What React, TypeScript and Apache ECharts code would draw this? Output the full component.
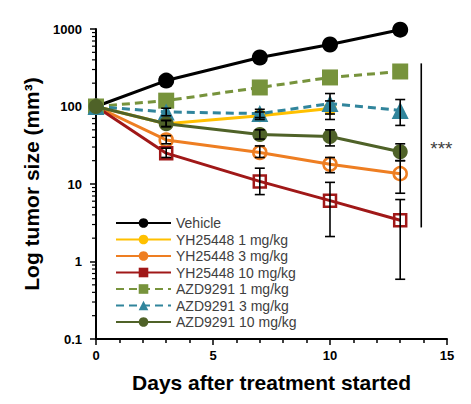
import React, { useEffect, useRef } from "react";
import * as echarts from "echarts";

// ---- data ----
const days = [0, 3, 7, 10, 13];
const seriesNames = [
  "Vehicle",
  "YH25448 1 mg/kg",
  "YH25448 3 mg/kg",
  "YH25448 10 mg/kg",
  "AZD9291 1 mg/kg",
  "AZD9291 3 mg/kg",
  "AZD9291 10 mg/kg",
];
const vehicle = [100, 216, 429, 631, 980];
const yh1 = [100, 60, 76, 94, null];
const yh3 = [100, 37, 25.5, 18, 13.6];
const yh10 = [100, 25, 10.8, 6.1, 3.4];
const azd1 = [100, 119, 176, 237, 283];
const azd3 = [100, 85, 81, 109, 89];
const azd10 = [100, 60, 43.5, 41, 26];

// error bars (lower / upper)
const yh1Low = [null, 55, 68, 68, null];
const yh1High = [null, 66, 85, 118, null];
const yh3Low = [null, 33, 22, 14, 7.6];
const yh3High = [null, 42, 31, 22, 20];
const yh10Low = [null, 22, 7.3, 2.1, 0.59];
const yh10High = [null, 29, 16, 10.5, 6.3];
const azd3Low = [null, 76, 72, 80, 57];
const azd3High = [null, 95, 92, 147, 123];
const azd10Low = [null, 55, 38, 31, 20];
const azd10High = [null, 66, 50, 50, 33];

const xTicks = [0, 5, 10, 15];
const yDecades = [0.1, 1, 10, 100];
const yMinorMultipliers = [2, 3, 4, 5, 6, 7, 8, 9];

const sigDay = 13.9;
const sigLow = 2.75;
const sigHigh = 360;
const sigLabel = "***";

export default function App() {
  const ref = useRef<HTMLDivElement>(null);
  useEffect(() => {
    if (!ref.current) return;
    const chart = echarts.init(ref.current, null, { renderer: "svg" });
    const font = "Arial, 'Liberation Sans', sans-serif";

    const mk = (arr: (number | null)[]) => days.map((d, i) => [d, arr[i]]);
    const errData: number[][] = [];
    const addErr = (lo: (number | null)[], hi: (number | null)[]) => {
      days.forEach((d, i) => {
        if (lo[i] != null && hi[i] != null) errData.push([d, lo[i] as number, hi[i] as number]);
      });
    };
    addErr(yh1Low, yh1High);
    addErr(yh3Low, yh3High);
    addErr(yh10Low, yh10High);
    addErr(azd3Low, azd3High);
    addErr(azd10Low, azd10High);

    const minorTicks: number[][] = [];
    yDecades.forEach((d) => yMinorMultipliers.forEach((m) => minorTicks.push([0, d * m])));

    const colors = ["#000000", "#FFC000", "#EE7E22", "#A01818", "#77933C", "#31859C", "#4F6228"];

    const lineSeries = (
      idx: number,
      arr: (number | null)[],
      symbol: string,
      size: number,
      dashed: boolean,
      hollow: boolean
    ) => ({
      type: "line",
      name: seriesNames[idx],
      data: mk(arr),
      symbol,
      symbolSize: size,
      showAllSymbol: true,
      lineStyle: { color: colors[idx], width: 3, type: dashed ? [8, 5] : "solid" },
      itemStyle: hollow
        ? { color: "rgba(255,255,255,0)", borderColor: colors[idx], borderWidth: 2.5 }
        : { color: colors[idx], borderWidth: 0 },
      z: 2 + idx * 0.01,
    });

    const option: any = {
      animation: false,
      grid: { left: 96, right: 24, top: 29, bottom: 65, containLabel: false },
      legend: {
        left: 110,
        top: 211,
        orient: "vertical",
        itemWidth: 55,
        itemHeight: 12,
        itemGap: 2.5,
        textStyle: { fontFamily: font, fontSize: 14, color: "#404040" },
        data: seriesNames.map((n, i) => ({
          name: n,
          itemStyle: { color: colors[i], borderWidth: 0 },
        })),
      },
      xAxis: {
        type: "value",
        min: xTicks[0],
        max: xTicks[xTicks.length - 1],
        interval: 5,
        name: "Days after treatment started",
        nameLocation: "middle",
        nameGap: 33,
        nameTextStyle: { fontFamily: font, fontSize: 21, fontWeight: "bold", color: "#000" },
        axisLine: { lineStyle: { color: "#000", width: 2 } },
        axisTick: { show: true, inside: false, length: 6, lineStyle: { color: "#000", width: 1.5 } },
        minorTick: { show: true, splitNumber: 5, length: 4, lineStyle: { color: "#000", width: 1.5 } },
        axisLabel: { fontFamily: font, fontSize: 13, fontWeight: "bold", color: "#000", margin: 10 },
        splitLine: { show: false },
      },
      yAxis: {
        type: "log",
        logBase: 10,
        min: 0.1,
        max: 1000,
        name: "Log tumor size (mm³)",
        nameLocation: "middle",
        nameGap: 45,
        nameTextStyle: { fontFamily: font, fontSize: 21, fontWeight: "bold", color: "#000" },
        axisLine: { show: true, lineStyle: { color: "#000", width: 2 } },
        axisTick: { show: true, inside: false, length: 6, lineStyle: { color: "#000", width: 1.5 } },
        axisLabel: {
          fontFamily: font,
          fontSize: 13,
          fontWeight: "bold",
          color: "#000",
          margin: 14,
          formatter: (v: number) => String(v),
        },
        splitLine: { show: false },
      },
      series: [
        lineSeries(0, vehicle, "circle", 16, false, false),
        lineSeries(1, yh1, "circle", 13, false, false),
        lineSeries(2, yh3, "circle", 13, false, true),
        lineSeries(3, yh10, "rect", 12, false, true),
        lineSeries(4, azd1, "rect", 16, true, false),
        lineSeries(5, azd3, "triangle", 17, true, false),
        lineSeries(6, azd10, "circle", 15, false, false),
        {
          type: "custom",
          data: errData,
          encode: { x: 0, y: [1, 2] },
          silent: true,
          z: 5,
          renderItem: (params: any, api: any) => {
            const x = api.value(0);
            const p1 = api.coord([x, api.value(1)]);
            const p2 = api.coord([x, api.value(2)]);
            const w = 5;
            const st = { stroke: "#000", lineWidth: 1.6 };
            return {
              type: "group",
              children: [
                { type: "line", shape: { x1: p1[0], y1: p1[1], x2: p2[0], y2: p2[1] }, style: st },
                { type: "line", shape: { x1: p1[0] - w, y1: p1[1], x2: p1[0] + w, y2: p1[1] }, style: st },
                { type: "line", shape: { x1: p2[0] - w, y1: p2[1], x2: p2[0] + w, y2: p2[1] }, style: st },
              ],
            };
          },
        },
        {
          type: "custom",
          data: minorTicks,
          encode: { x: 0, y: 1 },
          silent: true,
          clip: false,
          renderItem: (params: any, api: any) => {
            const p = api.coord([api.value(0), api.value(1)]);
            return {
              type: "line",
              shape: { x1: p[0] - 4, y1: p[1], x2: p[0], y2: p[1] },
              style: { stroke: "#000", lineWidth: 1.2 },
            };
          },
        },
        {
          type: "custom",
          data: [[sigDay, sigLow, sigHigh]],
          encode: { x: 0, y: [1, 2] },
          silent: true,
          clip: false,
          renderItem: (params: any, api: any) => {
            const x = api.value(0);
            const p1 = api.coord([x, api.value(1)]);
            const p2 = api.coord([x, api.value(2)]);
            return {
              type: "group",
              children: [
                {
                  type: "line",
                  shape: { x1: p1[0], y1: p1[1], x2: p2[0], y2: p2[1] },
                  style: { stroke: "#000", lineWidth: 1.6 },
                },
                {
                  type: "text",
                  x: p1[0] + 9,
                  y: (p1[1] + p2[1]) / 2 + 3,
                  style: {
                    text: sigLabel,
                    fontFamily: font,
                    fontSize: 19,
                    fill: "#404040",
                    verticalAlign: "middle",
                    align: "left",
                  },
                },
              ],
            };
          },
        },
      ],
    };
    chart.setOption(option);
    return () => chart.dispose();
  }, []);
  return (
    <div
      ref={ref}
      style={{ position: "absolute", left: 0, top: 0, width: 471, height: 404 }}
    />
  );
}
